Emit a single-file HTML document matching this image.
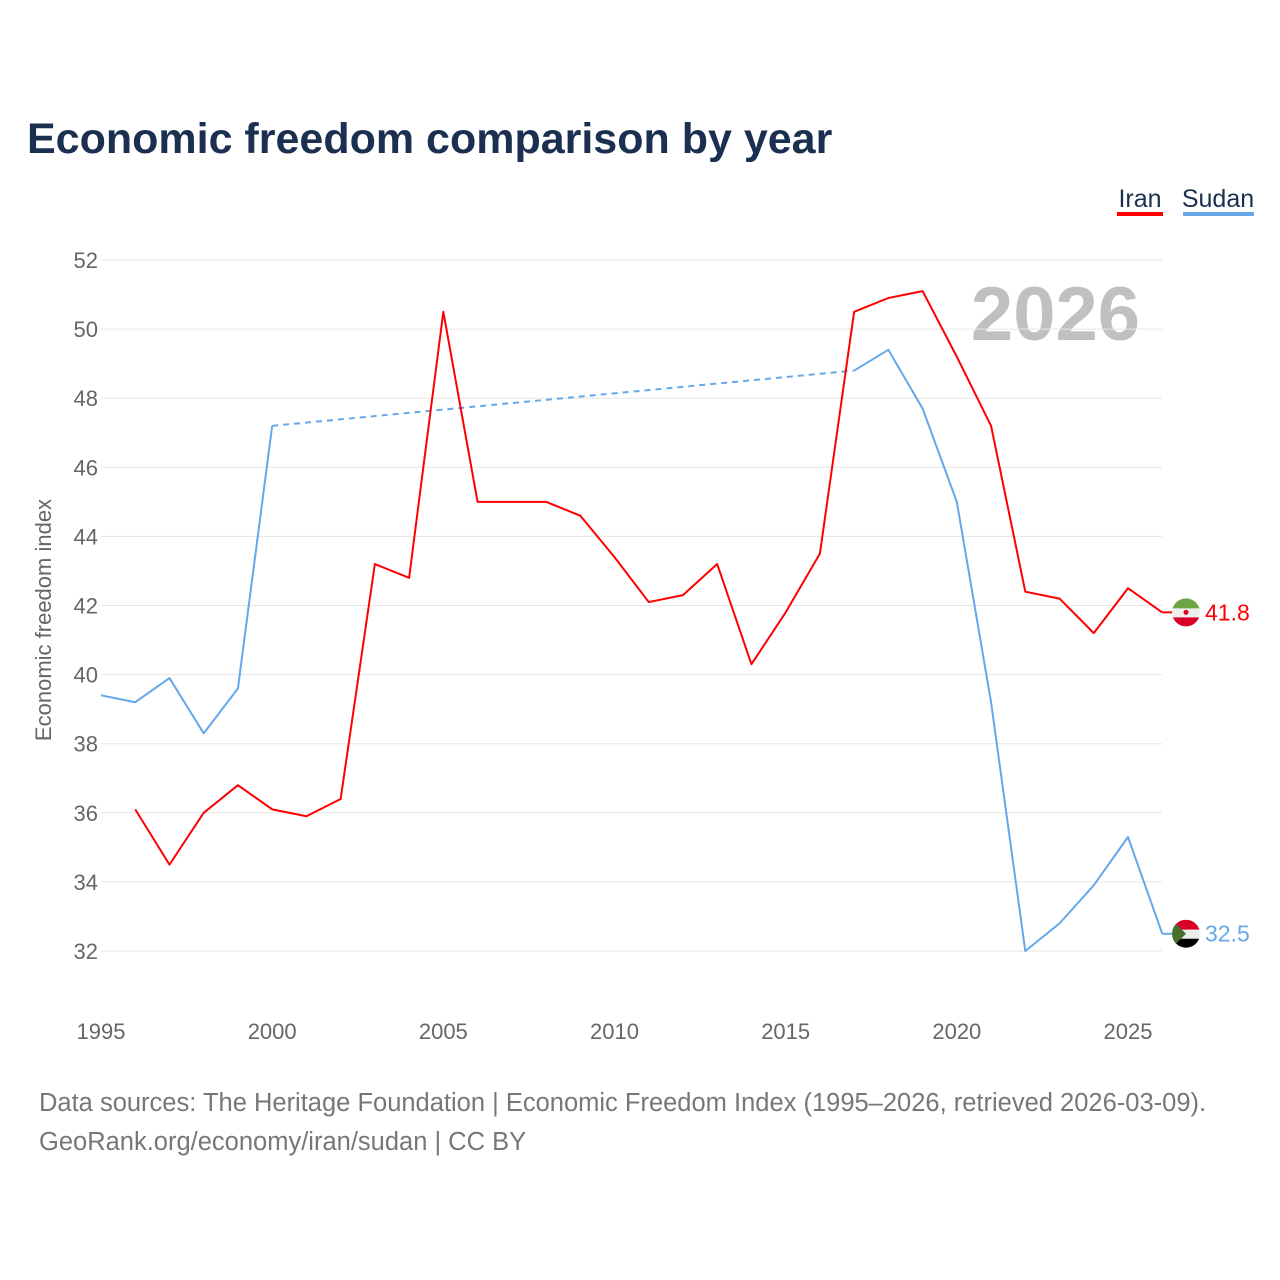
<!DOCTYPE html>
<html><head><meta charset="utf-8">
<style>
body{margin:0;background:#fff;font-family:"Liberation Sans",sans-serif;}
#wrap{position:relative;width:1280px;height:1280px;overflow:hidden;}
</style></head>
<body>
<div id="wrap">
<svg id="chart" width="1280" height="1280" xmlns="http://www.w3.org/2000/svg">
<text x="27" y="153" font-size="43" font-weight="bold" fill="#1b2f50">Economic freedom comparison by year</text>
<g>
<g>
<text x="1140" y="207" font-size="25" fill="#1b2f50" text-anchor="middle">Iran</text>
<rect x="1117" y="212" width="46" height="4" fill="#ff0000"/></g>
<g>
<text x="1218" y="207" font-size="25" fill="#1b2f50" text-anchor="middle">Sudan</text>
<rect x="1183" y="212" width="71" height="4" fill="#64a8ea"/></g>
</g>
<text x="1140" y="340" font-size="76" font-weight="bold" fill="#c0c0c0" text-anchor="end">2026</text>
<g id="grid"></g><g id="xticks"></g><g id="series"></g>
<text transform="translate(51,620) rotate(-90)" font-size="22" fill="#666" text-anchor="middle">Economic freedom index</text>
<text x="39" y="1111" font-size="25.5" fill="#777">Data sources: The Heritage Foundation | Economic Freedom Index (1995–2026, retrieved 2026-03-09).</text>
<text x="39" y="1150" font-size="25.5" fill="#777">GeoRank.org/economy/iran/sudan | CC BY</text>
</svg>
</div>
<script>
const years=[1995,1996,1997,1998,1999,2000,2001,2002,2003,2004,2005,2006,2007,2008,2009,2010,2011,2012,2013,2014,2015,2016,2017,2018,2019,2020,2021,2022,2023,2024,2025,2026];
const iranValues=[null,36.1,34.5,36.0,36.8,36.1,35.9,36.4,43.2,42.8,50.5,45.0,45.0,45.0,44.6,43.4,42.1,42.3,43.2,40.3,41.8,43.5,50.5,50.9,51.1,49.2,47.2,42.4,42.2,41.2,42.5,41.8];
const sudanValues=[39.4,39.2,39.9,38.3,39.6,47.2,null,null,null,null,null,null,null,null,null,null,null,null,null,null,null,null,48.8,49.4,47.7,45.0,39.2,32.0,32.8,33.9,35.3,32.5];
const yTicks=[32,34,36,38,40,42,44,46,48,50,52];
const xTicks=[1995,2000,2005,2010,2015,2020,2025];
const NS="http://www.w3.org/2000/svg";
function xs(v){return 101+(v-1995)*(1027/30);}
function ys(v){return 951-(v-32)*(691/20);}
function mk(t,a,p){const e=document.createElementNS(NS,t);for(const k in a)e.setAttribute(k,a[k]);p.appendChild(e);return e;}
const grid=document.getElementById('grid');
yTicks.forEach(t=>{
 const l=mk('line',{x1:101,x2:1162,y1:ys(t),y2:ys(t),stroke:'#e6e6e6','stroke-width':1},grid);
 
 
 const tx=mk('text',{x:98,y:ys(t)+8,'font-size':22,fill:'#666','text-anchor':'end'},grid);
 tx.textContent=t;
 
 
});
const xt=document.getElementById('xticks');
xTicks.forEach(t=>{
 const tx=mk('text',{x:xs(t),y:1039,'font-size':22,fill:'#666','text-anchor':'middle'},xt);
 tx.textContent=t;
 
 
});
const sg=document.getElementById('series');
function drawSeries(vals,color,name,label){
 let d='',pen=false,prev=null;
 vals.forEach((v,i)=>{
  if(v==null){pen=false;return;}
  const x=xs(years[i]),y=ys(v);
  if(prev&&prev.i<i-1){
   const dl=mk('line',{x1:prev.x,y1:prev.y,x2:x,y2:y,stroke:color,'stroke-width':2,'stroke-dasharray':'6,5'},sg);
   
   
  }
  d+=(pen?'L':'M')+x+','+y;pen=true;prev={x,y,i};
 });
 const p=mk('path',{d:d,fill:'none',stroke:color,'stroke-width':2,'stroke-linejoin':'round'},sg);
 
 
 const last=vals[vals.length-1],ly=ys(last);
 mk('line',{x1:xs(2026),x2:1180,y1:ly,y2:ly,stroke:color,'stroke-width':2},sg);
 const g=mk('g',{},sg);
 
 
 const cp=mk('clipPath',{id:'cp-'+name},g);
 mk('circle',{cx:1186,cy:ly,r:14},cp);
 const gg=mk('g',{'clip-path':'url(#cp-'+name+')'},g);
 if(name==='iran'){
  mk('rect',{x:1172,y:ly-14,width:28,height:10,fill:'#6da544'},gg);
  mk('rect',{x:1172,y:ly-4,width:28,height:9,fill:'#eeeeee'},gg);
  mk('rect',{x:1172,y:ly+5,width:28,height:10,fill:'#d80027'},gg);
  mk('circle',{cx:1186,cy:ly,r:2.5,fill:'#d80027'},gg);
 }else{
  mk('rect',{x:1172,y:ly-14,width:28,height:10,fill:'#d80027'},gg);
  mk('rect',{x:1172,y:ly-4,width:28,height:9,fill:'#eeeeee'},gg);
  mk('rect',{x:1172,y:ly+5,width:28,height:10,fill:'#000'},gg);
  mk('polygon',{points:(1172)+','+(ly-14)+' '+(1186)+','+ly+' '+(1172)+','+(ly+14),fill:'#496e2d'},gg);
 }
 const t=mk('text',{x:1205,y:ly+8,'font-size':23,fill:color},sg);
 t.textContent=label;
 
 
}
drawSeries(sudanValues,'#64a8ea','sudan',sudanValues[sudanValues.length-1].toFixed(1));
drawSeries(iranValues,'#ff0000','iran',iranValues[iranValues.length-1].toFixed(1));
</script>
</body></html>
